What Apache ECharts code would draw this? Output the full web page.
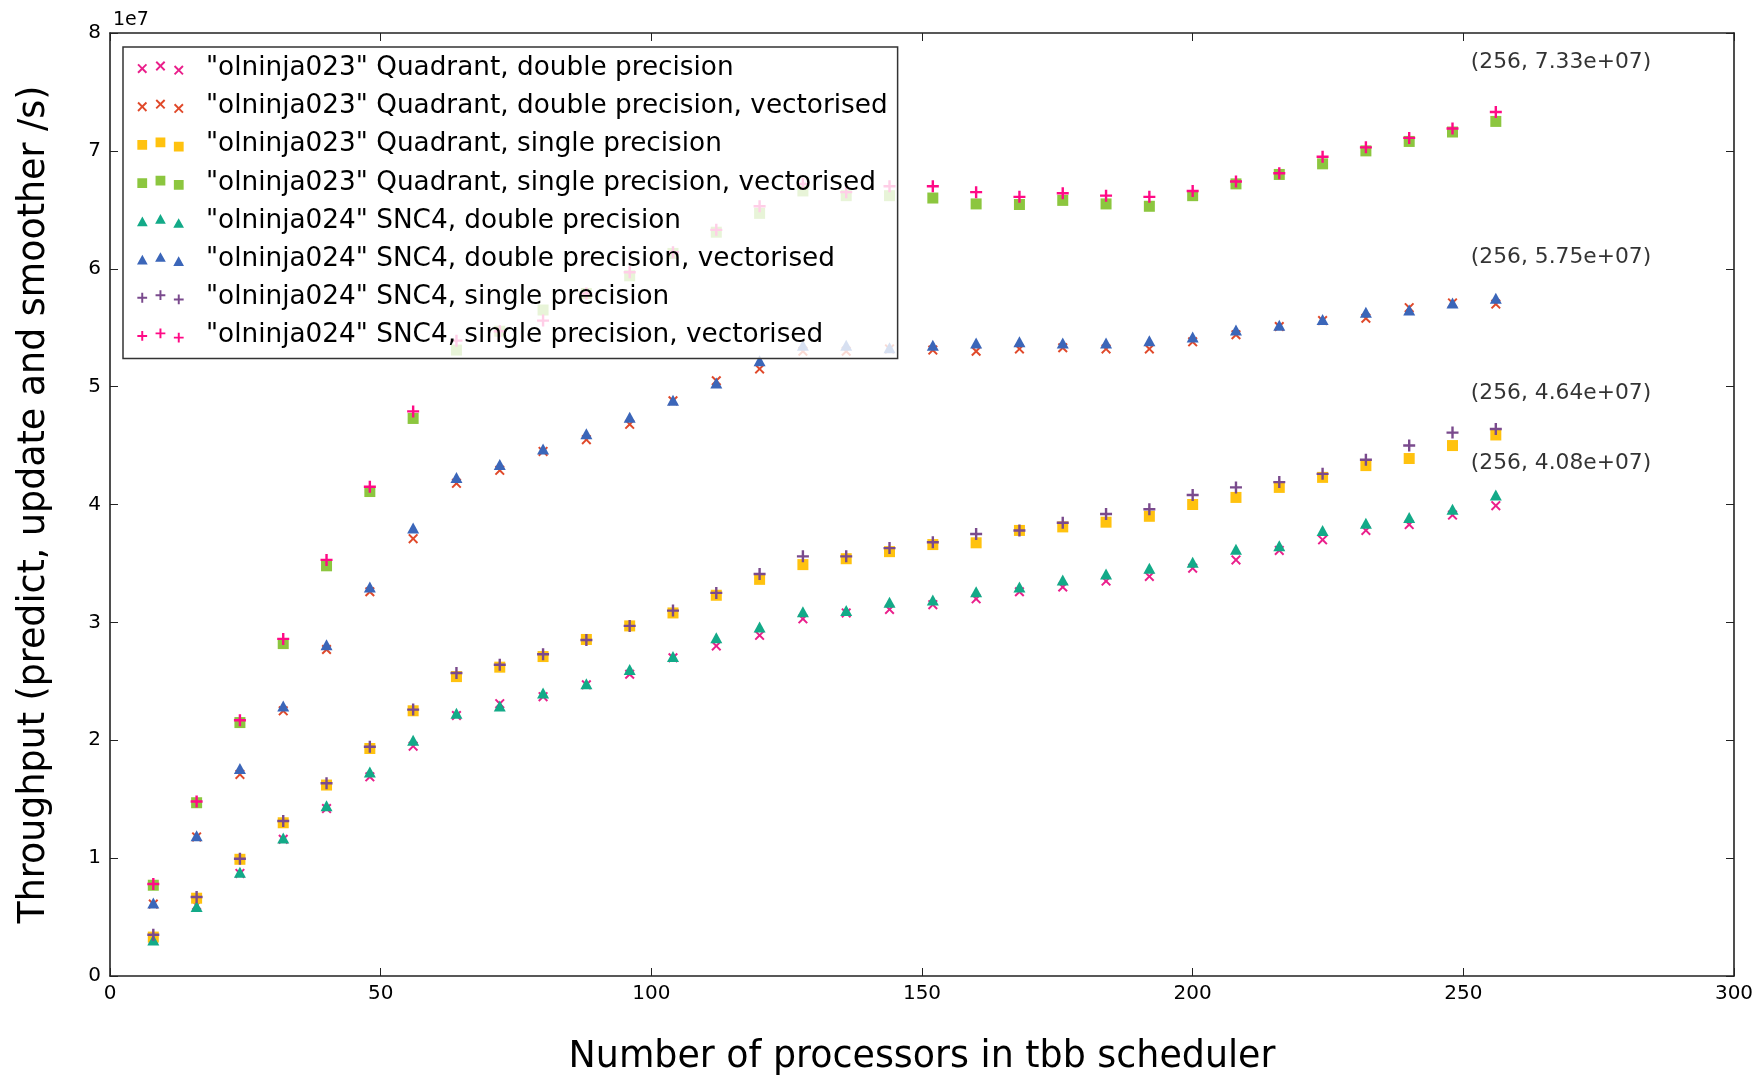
<!DOCTYPE html>
<html>
<head>
<meta charset="utf-8">
<script src="https://cdn.jsdelivr.net/npm/echarts@6/dist/echarts.min.js"></script>
<style>
html,body{margin:0;padding:0;background:#fff;}
#chart{width:1758px;height:1077px;}
</style>
</head>
<body>
<div id="chart"></div>
<script>
// Number of processors (x values)
const processors = [8,16,24,32,40,48,56,64,72,80,88,96,104,112,120,128,136,144,152,160,168,176,184,192,200,208,216,224,232,240,248,256];

// Throughput values, in units of 1e7 /s
const quadDouble    = [0.31,0.60,0.87,1.16,1.42,1.69,1.95,2.21,2.31,2.37,2.47,2.56,2.70,2.80,2.89,3.03,3.08,3.11,3.15,3.20,3.26,3.30,3.35,3.39,3.46,3.53,3.61,3.70,3.78,3.83,3.91,3.99];
const quadDoubleVec = [0.61,1.18,1.71,2.25,2.77,3.26,3.71,4.18,4.29,4.45,4.55,4.68,4.88,5.05,5.15,5.30,5.30,5.32,5.31,5.30,5.32,5.33,5.32,5.32,5.38,5.44,5.51,5.56,5.58,5.67,5.71,5.70];
const quadSingle    = [0.33,0.66,0.99,1.30,1.62,1.93,2.25,2.54,2.62,2.71,2.855,2.97,3.08,3.23,3.365,3.49,3.54,3.60,3.66,3.675,3.78,3.81,3.85,3.90,4.00,4.06,4.145,4.23,4.33,4.39,4.50,4.59];
const quadSingleVec = [0.77,1.47,2.15,2.82,3.48,4.11,4.73,5.31,5.47,5.65,5.79,5.94,6.13,6.31,6.47,6.66,6.62,6.62,6.60,6.55,6.545,6.58,6.55,6.53,6.62,6.72,6.80,6.89,7.00,7.08,7.16,7.25];
const sncDouble     = [0.305,0.59,0.88,1.17,1.445,1.73,2.00,2.23,2.29,2.40,2.48,2.60,2.71,2.87,2.96,3.09,3.10,3.17,3.19,3.26,3.30,3.36,3.41,3.46,3.51,3.62,3.65,3.78,3.84,3.89,3.96,4.08];
const sncDoubleVec  = [0.62,1.19,1.76,2.29,2.81,3.30,3.80,4.23,4.34,4.47,4.60,4.74,4.885,5.03,5.22,5.35,5.35,5.33,5.35,5.37,5.38,5.37,5.37,5.39,5.42,5.48,5.52,5.57,5.63,5.65,5.71,5.75];
const sncSingle     = [0.35,0.67,0.995,1.315,1.635,1.945,2.26,2.57,2.64,2.73,2.85,2.97,3.10,3.25,3.41,3.56,3.56,3.63,3.68,3.75,3.78,3.845,3.92,3.96,4.08,4.145,4.19,4.26,4.38,4.50,4.61,4.64];
const sncSingleVec  = [0.78,1.48,2.17,2.86,3.53,4.15,4.79,5.39,5.47,5.56,5.79,5.97,6.14,6.33,6.53,6.72,6.65,6.70,6.70,6.65,6.61,6.64,6.62,6.61,6.66,6.74,6.81,6.95,7.03,7.11,7.19,7.33];

const seriesNames = [
  '"olninja023" Quadrant, double precision',
  '"olninja023" Quadrant, double precision, vectorised',
  '"olninja023" Quadrant, single precision',
  '"olninja023" Quadrant, single precision, vectorised',
  '"olninja024" SNC4, double precision',
  '"olninja024" SNC4, double precision, vectorised',
  '"olninja024" SNC4, single precision',
  '"olninja024" SNC4, single precision, vectorised'
];
const seriesValues = [quadDouble, quadDoubleVec, quadSingle, quadSingleVec, sncDouble, sncDoubleVec, sncSingle, sncSingleVec];

// Axis ticks
const xTicks = [0,50,100,150,200,250,300];
const yTicks = [0,1,2,3,4,5,6,7,8];

// Annotations: [x, y (1e7 units), text]
const annotX = [256,256,256,256];
const annotY = [7.33,5.75,4.64,4.08];
const annotText = ['(256, 7.33e+07)','(256, 5.75e+07)','(256, 4.64e+07)','(256, 4.08e+07)'];

// ---- styling ----
const FONT = 'DejaVu Sans';
const colors = ['#ea1f8b','#e0492a','#ffc20f','#8cc63f','#13aa88','#3b66b9','#7a4a8d','#ff0a86'];
const xPath = 'path://M0,1.4L1.4,0L5,3.6L8.6,0L10,1.4L6.4,5L10,8.6L8.6,10L5,6.4L1.4,10L0,8.6L3.6,5Z';
const plusPath = 'path://M4,0H6V4H10V6H6V10H4V6H0V4H4Z';
const symbols = [xPath, xPath, 'rect', 'rect', 'triangle', 'triangle', plusPath, plusPath];
const symSizes = [[10,10],[10,10],[11,11],[11,11],[12,11],[12,11],[12,12],[12,12]];

// Three-marker legend icons (matplotlib style scatterpoints)
function tri(ox, oy, shape) {
  const f = (x, y) => (ox + x).toFixed(2) + ',' + (oy + y).toFixed(2);
  if (shape === 'x') return 'M' + f(0,1.4) + 'L' + f(1.4,0) + 'L' + f(5,3.6) + 'L' + f(8.6,0) + 'L' + f(10,1.4) + 'L' + f(6.4,5) + 'L' + f(10,8.6) + 'L' + f(8.6,10) + 'L' + f(5,6.4) + 'L' + f(1.4,10) + 'L' + f(0,8.6) + 'L' + f(3.6,5) + 'Z';
  if (shape === 'plus') return 'M' + f(4,0) + 'L' + f(6,0) + 'L' + f(6,4) + 'L' + f(10,4) + 'L' + f(10,6) + 'L' + f(6,6) + 'L' + f(6,10) + 'L' + f(4,10) + 'L' + f(4,6) + 'L' + f(0,6) + 'L' + f(0,4) + 'L' + f(4,4) + 'Z';
  if (shape === 'rect') return 'M' + f(0,0) + 'L' + f(10,0) + 'L' + f(10,10) + 'L' + f(0,10) + 'Z';
  return 'M' + f(5,0) + 'L' + f(10.5,10) + 'L' + f(-0.5,10) + 'Z';
}
function triple(shape) {
  return 'path://' + tri(0, 2.6, shape) + tri(18.6, 0, shape) + tri(37.3, 4.3, shape);
}
const legendShapes = ['x','x','rect','rect','tri','tri','plus','plus'];

const chart = echarts.init(document.getElementById('chart'), null, {renderer: 'canvas'});

const series = seriesNames.map((name, i) => ({
  name: name,
  type: 'scatter',
  xAxisIndex: 0,
  yAxisIndex: 0,
  symbol: symbols[i],
  symbolSize: symSizes[i],
  itemStyle: {color: colors[i], opacity: 1},
  emphasis: {disabled: true},
  data: processors.map((p, k) => [p, seriesValues[i][k]])
}));

const annotOffsets = [[-25,-50],[-25,-41],[-25,-36],[-25,-32]];
series.push({
  name: 'annotations',
  type: 'scatter',
  xAxisIndex: 0,
  yAxisIndex: 0,
  symbolSize: 0,
  silent: true,
  z: 5,
  data: annotX.map((x, i) => ({
    value: [x, annotY[i]],
    label: {
      show: true,
      formatter: annotText[i],
      position: annotOffsets[i],
      align: 'left',
      verticalAlign: 'middle',
      fontFamily: FONT,
      fontSize: 21.8,
      color: '#000'
    }
  }))
});

const axisLineStyle = {color: '#222', width: 1.6};
const option = {
  animation: false,
  backgroundColor: '#fff',
  textStyle: {fontFamily: FONT},
  title: {
    text: '1e7',
    left: 108,
    top: 6,
    textStyle: {fontFamily: FONT, fontSize: 19, fontWeight: 'normal', color: '#000'}
  },
  grid: {left: 110, right: 24, top: 33, bottom: 101, containLabel: false, outerBoundsMode: 'none'},
  legend: {
    orient: 'vertical',
    left: 123,
    top: 47,
    data: seriesNames.map((n, i) => ({name: n, icon: triple(legendShapes[i])})),
    itemWidth: 47,
    itemHeight: 14,
    itemGap: 12,
    symbolKeepAspect: true,
    padding: [8, 10, 10, 14],
    backgroundColor: 'rgba(255,255,255,0.8)',
    borderColor: '#333',
    borderWidth: 1.5,
    borderRadius: 0,
    textStyle: {fontFamily: FONT, fontSize: 26.3, color: '#000', lineHeight: 26.2, padding: [0,0,0,17]},
    selectedMode: false
  },
  xAxis: [
    {
      type: 'value', position: 'bottom', min: xTicks[0], max: xTicks[xTicks.length-1], interval: 50,
      name: 'Number of processors in tbb scheduler',
      nameLocation: 'middle', nameGap: 64,
      nameTextStyle: {fontFamily: FONT, fontSize: 36.4, color: '#000'},
      axisLine: {show: true, onZero: false, lineStyle: axisLineStyle},
      axisTick: {show: true, inside: true, length: 8, lineStyle: {color: '#222', width: 1}},
      axisLabel: {show: true, margin: 8, fontFamily: FONT, fontSize: 20, color: '#000'},
      splitLine: {show: false}
    },
    {
      type: 'value', position: 'top', min: xTicks[0], max: xTicks[xTicks.length-1], interval: 50,
      axisLine: {show: true, onZero: false, lineStyle: axisLineStyle},
      axisTick: {show: true, inside: true, length: 8, lineStyle: {color: '#222', width: 1}},
      axisLabel: {show: false},
      splitLine: {show: false}
    }
  ],
  yAxis: [
    {
      type: 'value', position: 'left', min: yTicks[0], max: yTicks[yTicks.length-1], interval: 1,
      name: 'Throughput (predict, update and smoother /s)',
      nameLocation: 'middle', nameGap: 57,
      nameTextStyle: {fontFamily: FONT, fontSize: 36.4, color: '#000'},
      axisLine: {show: true, onZero: false, lineStyle: axisLineStyle},
      axisTick: {show: true, inside: true, length: 8, lineStyle: {color: '#222', width: 1}},
      axisLabel: {show: true, margin: 9, fontFamily: FONT, fontSize: 20, color: '#000'},
      splitLine: {show: false}
    },
    {
      type: 'value', position: 'right', min: yTicks[0], max: yTicks[yTicks.length-1], interval: 1,
      axisLine: {show: true, onZero: false, lineStyle: axisLineStyle},
      axisTick: {show: true, inside: true, length: 8, lineStyle: {color: '#222', width: 1}},
      axisLabel: {show: false},
      splitLine: {show: false}
    }
  ],
  series: series
};
chart.setOption(option);
</script>
</body>
</html>
